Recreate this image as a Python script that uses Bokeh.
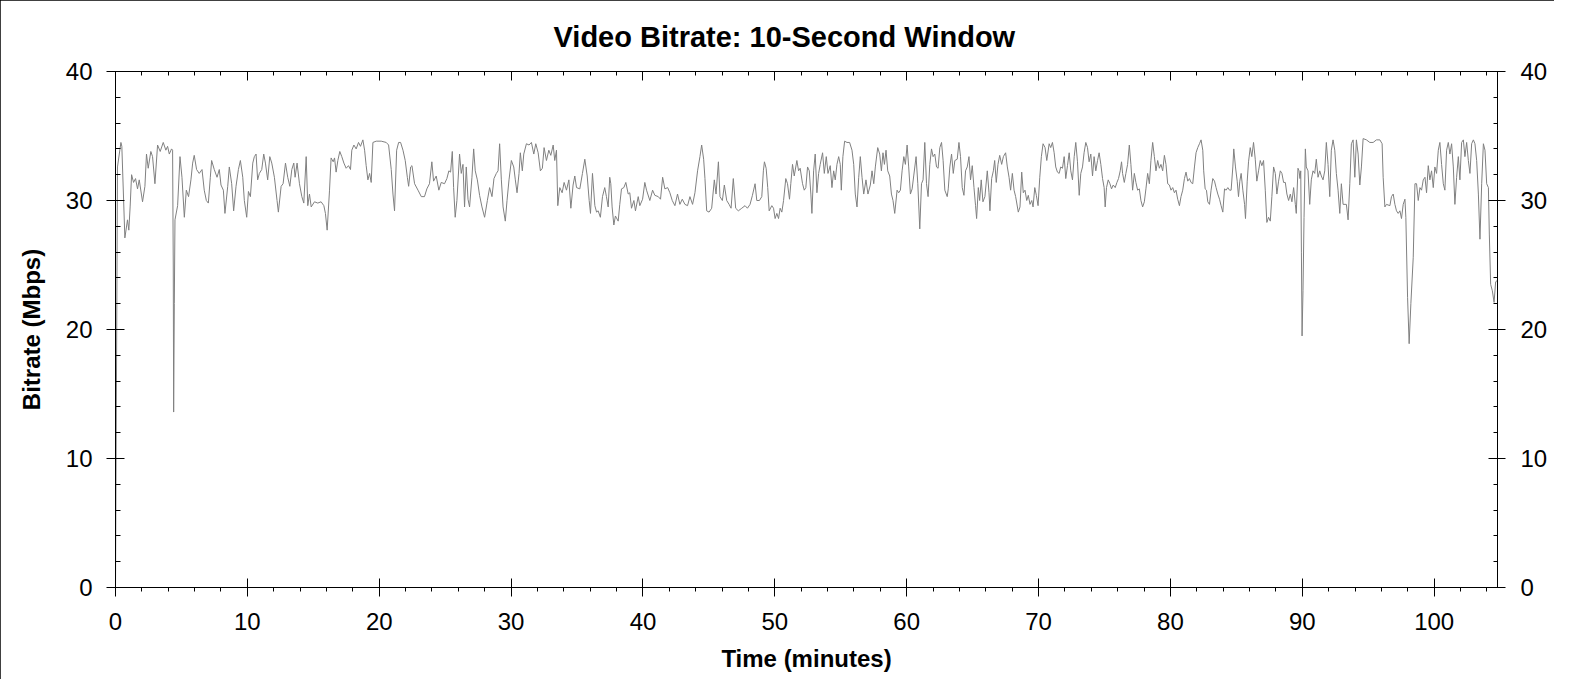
from bokeh.plotting import figure
from bokeh.models import LinearAxis, Range1d, SingleIntervalTicker, CustomJSTickFormatter
from bokeh.embed import file_html
from bokeh.resources import INLINE

# time in minutes, bitrate in Mbps (10-second window)
minutes = [
    0.00, 0.15, 0.41, 0.48, 0.71, 0.91, 1.01, 1.11, 1.22, 1.37, 1.52, 1.67, 1.80, 2.05, 2.23, 2.35, 2.48, 2.68, 2.81, 2.99,
    3.19, 3.39, 3.62, 3.82, 3.95, 4.08, 4.25, 4.33, 4.38, 4.41, 4.46, 4.51, 4.71, 4.89, 5.04, 5.22, 5.37, 5.54, 5.72, 5.85,
    5.97, 6.15, 6.35, 6.56, 6.73, 6.89, 7.04, 7.19, 7.29, 7.49, 7.70, 7.87, 8.00, 8.18, 8.30, 8.51, 8.63, 8.81, 8.96, 9.14,
    9.32, 9.47, 9.65, 9.77, 9.95, 10.08, 10.23, 10.41, 10.53, 10.66, 10.78, 10.91, 11.09, 11.24, 11.37, 11.54, 11.70, 11.85, 12.05, 12.25,
    12.35, 12.56, 12.71, 12.89, 13.06, 13.22, 13.37, 13.52, 13.62, 13.77, 13.95, 14.13, 14.28, 14.46, 14.58, 14.71, 14.84, 15.09, 15.34, 15.59,
    15.80, 15.92, 16.05, 16.23, 16.35, 16.51, 16.61, 16.73, 16.86, 17.01, 17.16, 17.32, 17.49, 17.67, 17.82, 17.92, 18.08, 18.25, 18.43, 18.58,
    18.76, 18.89, 19.01, 19.14, 19.27, 19.39, 19.52, 19.77, 20.15, 20.53, 20.71, 20.91, 21.04, 21.16, 21.32, 21.47, 21.62, 21.80, 21.97, 22.13,
    22.23, 22.38, 22.48, 22.68, 22.94, 23.19, 23.43, 23.61, 23.81, 23.99, 24.12, 24.32, 24.52, 24.70, 24.95, 25.13, 25.28, 25.41, 25.54, 25.64,
    25.76, 25.89, 26.09, 26.22, 26.35, 26.47, 26.60, 26.73, 26.85, 27.03, 27.16, 27.28, 27.44, 27.61, 27.79, 27.99, 28.20, 28.37, 28.55, 28.70,
    28.88, 29.01, 29.13, 29.26, 29.39, 29.56, 29.69, 29.84, 30.02, 30.20, 30.32, 30.45, 30.60, 30.70, 30.85, 30.96, 31.16, 31.36, 31.54, 31.72,
    31.87, 32.05, 32.22, 32.37, 32.50, 32.68, 32.86, 33.01, 33.19, 33.31, 33.44, 33.54, 33.69, 33.87, 34.02, 34.20, 34.38, 34.53, 34.70, 34.83,
    34.96, 35.21, 35.41, 35.59, 35.77, 35.92, 36.02, 36.17, 36.35, 36.48, 36.60, 36.77, 36.93, 37.10, 37.23, 37.36, 37.48, 37.56, 37.66, 37.79,
    37.91, 38.12, 38.24, 38.37, 38.55, 38.70, 38.88, 39.00, 39.13, 39.31, 39.43, 39.64, 39.76, 39.97, 40.14, 40.27, 40.52, 40.73, 40.90, 41.16,
    41.33, 41.49, 41.66, 41.87, 42.04, 42.22, 42.42, 42.62, 42.80, 42.98, 43.18, 43.38, 43.56, 43.76, 43.94, 44.14, 44.32, 44.45, 44.60, 44.70,
    44.83, 45.01, 45.21, 45.41, 45.54, 45.72, 45.84, 46.02, 46.17, 46.35, 46.53, 46.68, 46.85, 47.03, 47.23, 47.49, 47.74, 47.92, 48.12, 48.30,
    48.50, 48.63, 48.83, 49.01, 49.13, 49.21, 49.34, 49.46, 49.57, 49.77, 49.90, 50.02, 50.15, 50.28, 50.40, 50.53, 50.66, 50.83, 50.96, 51.11,
    51.21, 51.34, 51.47, 51.67, 51.80, 51.92, 52.10, 52.23, 52.35, 52.48, 52.61, 52.73, 52.81, 52.94, 53.06, 53.19, 53.32, 53.44, 53.62, 53.75,
    53.90, 54.03, 54.20, 54.33, 54.46, 54.58, 54.71, 54.84, 54.96, 55.04, 55.16, 55.29, 55.47, 55.67, 55.85, 55.98, 56.10, 56.23, 56.36, 56.48,
    56.61, 56.74, 56.91, 57.06, 57.24, 57.37, 57.50, 57.62, 57.80, 57.95, 58.08, 58.20, 58.31, 58.43, 58.56, 58.71, 58.84, 58.96, 59.09, 59.27,
    59.39, 59.52, 59.65, 59.78, 59.90, 60.03, 60.15, 60.28, 60.41, 60.53, 60.71, 60.84, 60.99, 61.12, 61.24, 61.37, 61.50, 61.62, 61.75, 61.88,
    62.00, 62.13, 62.26, 62.38, 62.51, 62.64, 62.76, 62.89, 63.07, 63.15, 63.27, 63.40, 63.53, 63.65, 63.83, 63.96, 64.08, 64.21, 64.34, 64.46,
    64.59, 64.72, 64.84, 64.97, 65.10, 65.22, 65.30, 65.43, 65.53, 65.65, 65.78, 65.93, 66.11, 66.24, 66.31, 66.44, 66.57, 66.67, 66.79, 66.92,
    67.05, 67.20, 67.33, 67.50, 67.63, 67.76, 67.88, 68.01, 68.14, 68.26, 68.46, 68.59, 68.72, 68.84, 68.97, 69.10, 69.22, 69.35, 69.48, 69.58,
    69.71, 69.83, 69.96, 70.09, 70.21, 70.34, 70.49, 70.62, 70.80, 70.92, 71.05, 71.18, 71.30, 71.43, 71.56, 71.68, 71.81, 71.94, 72.06, 72.19,
    72.32, 72.44, 72.57, 72.70, 72.82, 72.95, 73.08, 73.20, 73.33, 73.45, 73.58, 73.71, 73.83, 73.96, 74.09, 74.21, 74.34, 74.47, 74.59, 74.72,
    74.85, 74.97, 75.05, 75.15, 75.28, 75.41, 75.53, 75.66, 75.81, 75.94, 76.06, 76.19, 76.29, 76.37, 76.50, 76.62, 76.75, 76.88, 77.00, 77.13,
    77.26, 77.38, 77.51, 77.64, 77.76, 77.89, 78.02, 78.14, 78.27, 78.40, 78.52, 78.65, 78.78, 78.90, 79.03, 79.16, 79.28, 79.41, 79.54, 79.66,
    79.79, 79.92, 80.04, 80.17, 80.30, 80.42, 80.55, 80.68, 80.80, 80.93, 81.06, 81.18, 81.31, 81.44, 81.56, 81.69, 81.82, 81.94, 82.07, 82.20,
    82.32, 82.45, 82.52, 82.63, 82.73, 82.83, 82.96, 83.08, 83.21, 83.34, 83.46, 83.59, 83.72, 83.84, 83.97, 84.10, 84.22, 84.35, 84.48, 84.60,
    84.73, 84.80, 84.93, 85.06, 85.16, 85.26, 85.36, 85.49, 85.62, 85.69, 85.82, 85.92, 86.05, 86.17, 86.30, 86.43, 86.55, 86.68, 86.81, 86.93,
    87.06, 87.19, 87.31, 87.44, 87.57, 87.69, 87.82, 87.95, 88.07, 88.20, 88.33, 88.45, 88.58, 88.71, 88.83, 88.96, 89.09, 89.21, 89.34, 89.47,
    89.54, 89.67, 89.75, 89.82, 89.88, 89.93, 89.98, 90.05, 90.13, 90.23, 90.30, 90.43, 90.56, 90.68, 90.81, 90.94, 91.06, 91.19, 91.32, 91.44,
    91.57, 91.70, 91.82, 91.95, 92.08, 92.20, 92.33, 92.46, 92.58, 92.71, 92.84, 92.96, 93.09, 93.34, 93.47, 93.60, 93.72, 93.85, 93.98, 94.10,
    94.23, 94.36, 94.48, 94.61, 94.86, 95.12, 95.37, 95.62, 95.88, 96.05, 96.13, 96.26, 96.38, 96.64, 96.76, 96.89, 97.02, 97.14, 97.27, 97.40,
    97.52, 97.65, 97.78, 97.85, 97.98, 98.10, 98.23, 98.41, 98.54, 98.66, 98.79, 98.92, 99.04, 99.17, 99.30, 99.42, 99.55, 99.67, 99.80, 99.93,
    100.05, 100.18, 100.31, 100.43, 100.56, 100.69, 100.81, 100.94, 101.07, 101.19, 101.32, 101.45, 101.57, 101.70, 101.83, 101.95, 102.08, 102.21, 102.33, 102.46,
    102.59, 102.71, 102.84, 102.97, 103.09, 103.22, 103.35, 103.47, 103.60, 103.73, 103.85, 103.98, 104.11, 104.18, 104.28, 104.41, 104.54, 104.66, 104.79, 104.87,
]

mbps = [
    0.0, 32.6, 34.5, 34.2, 27.1, 28.5, 27.7, 29.5, 32.0, 31.4, 31.7, 30.9, 31.6, 29.9, 31.1, 33.6, 32.5, 33.8, 33.4, 31.3,
    34.3, 33.8, 34.5, 33.9, 34.2, 33.6, 34.0, 33.9, 25.0, 13.6, 22.0, 28.5, 29.6, 33.4, 31.8, 28.7, 30.8, 30.3, 31.6, 32.9,
    33.5, 32.4, 32.1, 32.4, 30.8, 30.0, 29.8, 31.8, 33.1, 32.4, 31.8, 32.4, 31.2, 30.8, 29.0, 31.1, 32.6, 31.3, 29.2, 31.1,
    32.4, 33.1, 31.8, 30.0, 28.7, 30.7, 30.3, 32.9, 33.4, 33.6, 31.6, 32.1, 32.4, 33.6, 32.9, 31.6, 33.4, 32.9, 31.8, 30.0,
    29.1, 31.1, 31.3, 32.9, 31.8, 31.1, 32.4, 32.9, 31.8, 32.9, 31.3, 30.3, 29.8, 33.4, 29.6, 30.5, 29.5, 29.9, 29.8, 29.9,
    29.6, 29.0, 27.7, 30.8, 33.3, 33.0, 33.3, 32.2, 33.1, 33.8, 33.4, 32.9, 32.5, 32.7, 32.4, 33.9, 34.3, 34.0, 34.5, 34.2,
    34.7, 33.9, 32.7, 31.6, 32.1, 31.4, 34.5, 34.6, 34.6, 34.5, 34.3, 32.4, 30.5, 29.2, 33.9, 34.5, 34.5, 33.9, 33.1, 31.8,
    31.1, 32.6, 32.7, 31.3, 30.8, 30.3, 30.3, 30.9, 31.3, 33.0, 31.5, 31.9, 30.8, 31.4, 31.3, 31.7, 32.3, 32.2, 33.8, 31.0,
    28.7, 30.0, 33.6, 32.1, 32.8, 29.5, 32.6, 30.1, 29.5, 31.8, 34.0, 32.3, 31.6, 30.4, 29.5, 28.7, 30.0, 31.0, 30.3, 31.7,
    32.1, 32.3, 34.4, 31.6, 29.5, 28.4, 30.0, 31.6, 33.1, 32.6, 31.6, 30.6, 32.1, 33.7, 32.3, 33.6, 34.4, 34.3, 34.5, 33.6,
    34.4, 33.7, 32.3, 32.5, 34.1, 33.1, 33.9, 33.5, 34.3, 33.1, 33.9, 29.6, 31.0, 30.6, 31.4, 30.8, 31.6, 29.4, 31.2, 31.9,
    31.0, 30.9, 32.1, 33.2, 31.9, 30.0, 29.0, 32.1, 29.6, 29.1, 29.2, 28.7, 30.3, 31.0, 30.3, 29.5, 31.8, 31.3, 29.5, 28.1,
    28.8, 28.4, 29.7, 30.9, 31.0, 31.4, 30.5, 30.6, 29.4, 30.0, 29.2, 30.3, 29.6, 30.1, 31.4, 30.8, 30.0, 30.8, 30.4, 30.3,
    30.1, 31.8, 30.9, 31.0, 30.6, 30.0, 29.6, 30.5, 29.7, 30.1, 29.7, 29.6, 30.3, 29.7, 30.6, 32.3, 33.4, 34.3, 33.2, 31.7,
    29.2, 29.1, 29.4, 31.6, 30.5, 33.0, 30.3, 30.0, 31.2, 30.0, 29.7, 29.4, 31.7, 29.4, 29.2, 29.4, 29.6, 29.4, 29.7, 30.4,
    31.3, 30.0, 30.0, 30.3, 32.3, 33.0, 32.5, 31.0, 29.2, 29.6, 29.4, 28.6, 29.0, 28.6, 29.4, 29.1, 30.0, 31.7, 31.3, 30.1,
    31.3, 32.8, 31.9, 33.1, 32.3, 32.5, 31.3, 30.8, 31.0, 32.6, 32.3, 30.5, 29.0, 32.3, 33.6, 30.6, 32.1, 32.8, 33.7, 32.1,
    33.4, 32.1, 32.7, 31.0, 32.3, 31.6, 32.8, 33.4, 32.8, 30.8, 33.4, 34.6, 34.5, 34.5, 33.9, 32.8, 30.5, 29.5, 31.8, 33.4,
    31.8, 30.5, 31.6, 30.5, 31.2, 32.3, 31.3, 32.6, 34.1, 33.6, 32.3, 33.7, 32.8, 33.9, 32.3, 31.9, 30.5, 30.0, 29.0, 30.8,
    30.6, 30.8, 32.3, 33.4, 32.8, 34.3, 32.6, 30.5, 30.9, 31.9, 33.4, 31.3, 27.8, 31.3, 31.6, 34.5, 31.3, 30.3, 32.8, 34.0,
    33.4, 33.6, 32.6, 32.5, 34.1, 34.5, 33.1, 30.8, 30.3, 30.9, 32.6, 33.6, 32.1, 33.1, 33.2, 34.5, 33.4, 31.0, 30.4, 32.3,
    32.6, 33.4, 31.6, 32.7, 31.0, 29.6, 28.6, 31.0, 30.0, 31.6, 29.9, 30.3, 32.3, 30.6, 29.2, 31.7, 32.3, 33.1, 31.4, 32.8,
    33.5, 32.8, 33.4, 33.7, 32.6, 31.8, 30.8, 32.1, 30.8, 30.3, 29.1, 29.5, 32.2, 30.6, 30.8, 30.0, 30.4, 29.7, 30.0, 29.5,
    31.0, 30.4, 29.6, 31.8, 33.4, 34.4, 34.1, 33.1, 34.4, 34.1, 34.5, 33.7, 32.6, 32.2, 32.1, 32.6, 32.5, 33.4, 31.7, 32.7,
    33.7, 32.3, 31.6, 33.4, 34.5, 33.0, 30.4, 32.1, 32.6, 33.7, 34.5, 34.1, 33.0, 33.6, 31.9, 33.4, 32.3, 33.1, 33.7, 32.8,
    31.7, 31.0, 29.5, 31.0, 31.6, 31.3, 30.9, 31.2, 31.0, 31.4, 31.7, 32.3, 33.0, 32.1, 31.4, 32.1, 32.8, 34.3, 32.8, 30.8,
    32.1, 31.4, 30.8, 30.9, 30.0, 29.5, 29.9, 30.9, 32.1, 31.3, 33.1, 34.5, 33.4, 32.3, 33.1, 32.5, 32.8, 32.3, 33.5, 32.8,
    31.3, 31.2, 30.8, 31.0, 30.6, 30.8, 30.1, 29.6, 30.3, 30.8, 31.7, 32.2, 31.5, 31.7, 31.4, 31.3, 32.6, 33.7, 34.1, 34.4,
    34.7, 33.9, 32.3, 30.9, 30.8, 29.9, 29.7, 30.8, 31.7, 31.5, 31.0, 30.5, 30.1, 29.6, 29.1, 30.9, 30.8, 31.0, 30.8, 30.8,
    32.6, 34.0, 32.6, 31.5, 30.3, 31.5, 32.1, 30.8, 29.7, 28.6, 31.5, 33.0, 34.1, 33.4, 34.5, 33.2, 31.5, 32.3, 33.1, 32.7,
    33.1, 30.8, 28.3, 28.7, 28.4, 30.3, 32.6, 32.1, 30.5, 31.5, 32.3, 32.1, 31.4, 31.4, 30.5, 30.0, 30.5, 29.9, 31.0, 29.7,
    29.0, 32.5, 32.3, 31.7, 32.3, 26.0, 19.5, 23.0, 28.7, 34.0, 32.6, 32.3, 29.7, 31.6, 32.3, 32.1, 33.2, 31.8, 32.3, 31.9,
    31.6, 32.3, 34.5, 32.8, 30.3, 33.9, 34.7, 33.9, 32.1, 30.8, 29.0, 31.3, 29.7, 29.7, 28.5, 31.3, 34.4, 34.7, 31.8, 34.7,
    33.6, 31.2, 32.6, 34.8, 34.7, 34.5, 34.5, 34.7, 34.7, 34.4, 31.8, 29.5, 29.7, 29.6, 30.3, 30.5, 29.7, 29.2, 29.0, 29.2,
    28.6, 29.7, 30.1, 28.7, 22.5, 18.9, 22.0, 25.6, 31.3, 31.3, 30.0, 31.0, 30.8, 31.6, 31.8, 30.6, 32.7, 31.6, 32.3, 31.0,
    32.6, 32.1, 33.9, 34.5, 32.8, 31.3, 30.8, 33.9, 34.5, 33.6, 34.4, 32.6, 29.7, 31.8, 33.4, 31.6, 34.5, 34.7, 33.4, 34.5,
    33.1, 32.1, 34.4, 34.7, 34.4, 33.1, 30.5, 27.0, 31.3, 34.4, 33.9, 31.3, 31.0, 27.4, 23.5, 23.0, 22.1, 23.7, 23.8, 22.0,
]

y_ticks_every = 10
x_ticks_every = 10
FONT = "Liberation Sans"

p = figure(width=1554, height=679, output_backend="svg", toolbar_location=None,
           x_range=Range1d(0, 104.8), y_range=Range1d(0, 40),
           min_border_left=115, min_border_right=57, min_border_top=71, min_border_bottom=92,
           title="Video Bitrate: 10-Second Window")

p.background_fill_color = "white"
p.border_fill_color = "white"
p.outline_line_color = None
p.xgrid.visible = False
p.ygrid.visible = False
p.styles = {"outline": "2px solid black", "outline-offset": "-2px"}

p.title.text_font = FONT
p.title.text_font_size = "29px"
p.title.text_font_style = "bold"
p.title.text_color = "black"
p.title.align = "left"
p.title.offset = 438
p.title.standoff = 37


def style_axis(ax, interval, maj_in, maj_out, min_in, min_out):
    ax.ticker = SingleIntervalTicker(interval=interval, num_minor_ticks=5)
    ax.axis_line_color = "black"
    ax.axis_line_width = 1
    ax.major_tick_line_color = "black"
    ax.minor_tick_line_color = "black"
    ax.major_tick_in = maj_in
    ax.major_tick_out = maj_out
    ax.minor_tick_in = min_in
    ax.minor_tick_out = min_out
    ax.major_label_text_font = FONT
    ax.major_label_text_font_size = "24px"
    ax.major_label_text_color = "black"
    ax.axis_label_text_font = FONT
    ax.axis_label_text_font_size = "24px"
    ax.axis_label_text_font_style = "bold"
    ax.axis_label_text_color = "black"


# bottom axis
xa = p.xaxis[0]
style_axis(xa, x_ticks_every, 9, 9, 0, 4)
xa.axis_label = "Time (minutes)"
xa.major_label_standoff = 16
xa.axis_label_standoff = 12

# left axis
ya = p.yaxis[0]
style_axis(ya, y_ticks_every, 9, 9, 5, 0)
ya.axis_label = "Bitrate (Mbps)"
ya.major_label_standoff = 14
ya.axis_label_standoff = 18

# right axis, mirrored labels
ra = LinearAxis()
style_axis(ra, y_ticks_every, 9, 8, 4, 0)
ra.major_label_standoff = 15
p.add_layout(ra, "right")

# top axis, ticks only
ta = LinearAxis()
style_axis(ta, x_ticks_every, 9, 0, 4, 0)
ta.formatter = CustomJSTickFormatter(code="return ''")
ta.major_label_standoff = 0
p.add_layout(ta, "above")

p.line(minutes, mbps, line_color="#808080", line_width=1)

open("out.html", "w").write(file_html(p, INLINE))
